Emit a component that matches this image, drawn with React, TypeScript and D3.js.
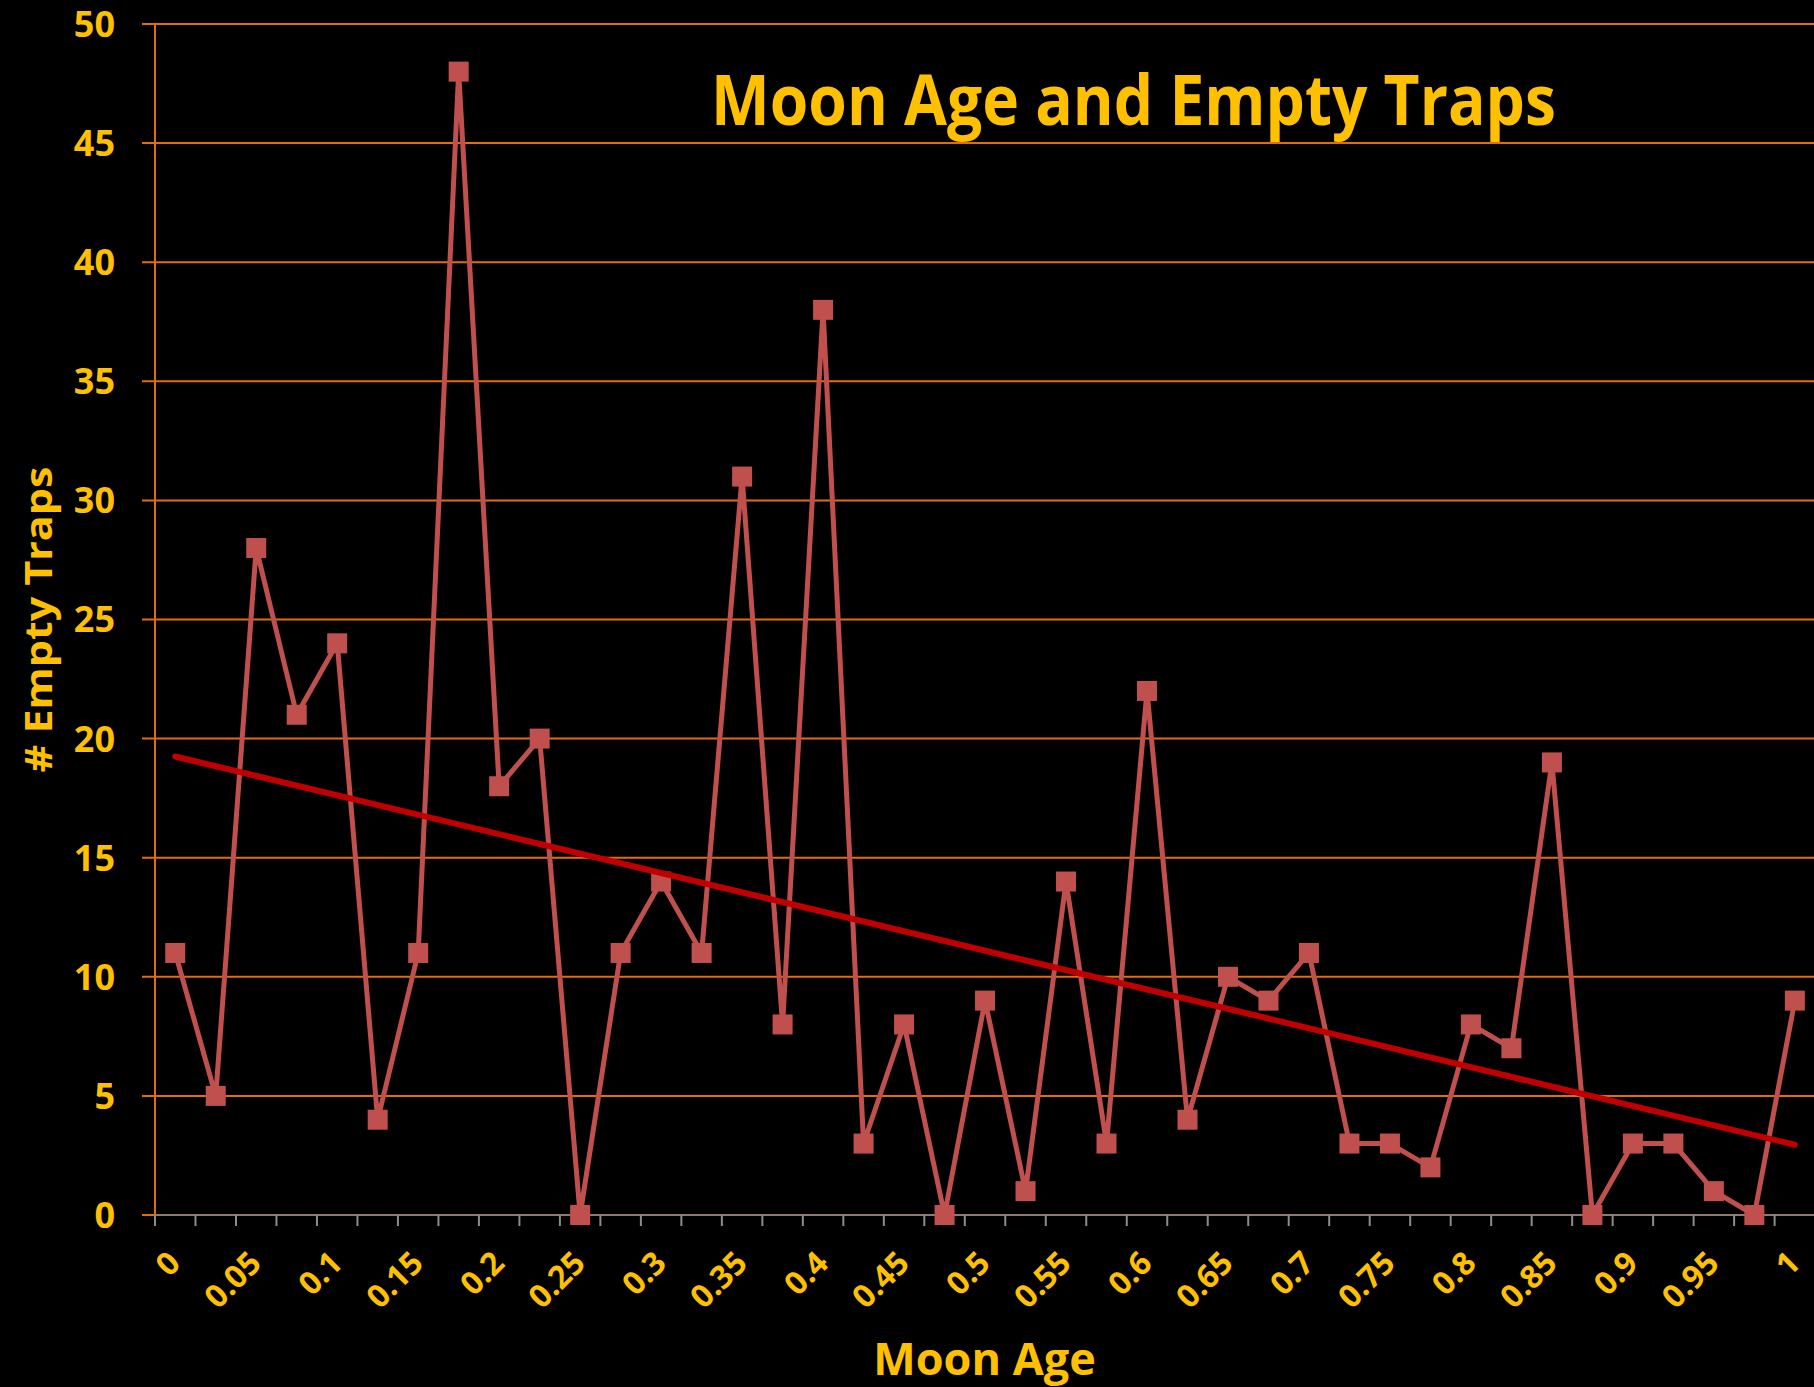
import React, { useRef, useEffect } from 'react'
import * as d3 from 'd3'

// moon age categories (0 to 1 in steps of 0.025)
const moonAges: string[] = [
  '0', '0.025', '0.05', '0.075', '0.1', '0.125', '0.15', '0.175', '0.2', '0.225',
  '0.25', '0.275', '0.3', '0.325', '0.35', '0.375', '0.4', '0.425', '0.45', '0.475',
  '0.5', '0.525', '0.55', '0.575', '0.6', '0.625', '0.65', '0.675', '0.7', '0.725',
  '0.75', '0.775', '0.8', '0.825', '0.85', '0.875', '0.9', '0.925', '0.95', '0.975', '1',
]

// number of empty traps per moon age
const emptyTraps: number[] = [
  11, 5, 28, 21, 24, 4, 11, 48, 18, 20,
  0, 11, 14, 11, 31, 8, 38, 3, 8, 0,
  9, 1, 14, 3, 22, 4, 10, 9, 11, 3,
  3, 2, 8, 7, 19, 0, 3, 3, 1, 0, 9,
]

// only every other category gets a label
const xTickLabels: string[] = [
  '0', '0.05', '0.1', '0.15', '0.2', '0.25', '0.3', '0.35', '0.4', '0.45', '0.5',
  '0.55', '0.6', '0.65', '0.7', '0.75', '0.8', '0.85', '0.9', '0.95', '1',
]

const yTicks: number[] = [0, 5, 10, 15, 20, 25, 30, 35, 40, 45, 50]

const YELLOW = '#FFC000'
const GRID = '#E46C0A'
const SERIES = '#C0504D'
const TREND = '#C00000'
const FONT = "'Open Sans', 'Noto Sans', sans-serif"

const MoonChart: React.FC = () => {
  const svgRef = useRef<SVGSVGElement | null>(null)

  useEffect(() => {
    document.body.style.margin = '0'
    document.body.style.background = '#000'

    const width = 1814
    const height = 1387
    const margin = { top: 24, right: 0, bottom: 172, left: 155 }

    const svg = d3.select(svgRef.current)
    svg.selectAll('*').remove()
    svg.attr('width', width).attr('height', height)

    svg.append('rect').attr('width', width).attr('height', height).attr('fill', '#000')

    // category axis, band per moon age
    const x = d3
      .scaleBand<string>()
      .domain(moonAges)
      .range([margin.left, margin.left + 40.49 * moonAges.length])
      .paddingInner(0)
      .paddingOuter(0)

    const y = d3
      .scaleLinear()
      .domain([0, 50])
      .range([height - margin.bottom, margin.top])

    const cx = (d: string) => (x(d) ?? 0) + x.bandwidth() / 2
    const y0 = y(0)

    // horizontal gridlines (with short outside ticks on the left)
    svg
      .append('g')
      .selectAll('line')
      .data(yTicks.filter((t) => t > 0))
      .enter()
      .append('line')
      .attr('x1', margin.left - 13)
      .attr('x2', width)
      .attr('y1', (d) => y(d))
      .attr('y2', (d) => y(d))
      .attr('stroke', GRID)
      .attr('stroke-width', 2)

    // y axis line
    svg
      .append('line')
      .attr('x1', margin.left)
      .attr('x2', margin.left)
      .attr('y1', y(50))
      .attr('y2', y0)
      .attr('stroke', GRID)
      .attr('stroke-width', 2)

    svg
      .append('line')
      .attr('x1', margin.left - 13)
      .attr('x2', margin.left)
      .attr('y1', y0)
      .attr('y2', y0)
      .attr('stroke', GRID)
      .attr('stroke-width', 2)

    // y tick labels
    svg
      .append('g')
      .selectAll('text')
      .data(yTicks)
      .enter()
      .append('text')
      .attr('x', 115)
      .attr('y', (d) => y(d))
      .attr('dy', '0.36em')
      .attr('text-anchor', 'end')
      .attr('font-family', FONT)
      .attr('font-weight', 700)
      .attr('font-size', 36)
      .attr('fill', YELLOW)
      .text((d) => d)

    // x axis line + tick marks between categories
    svg
      .append('line')
      .attr('x1', margin.left)
      .attr('x2', width)
      .attr('y1', y0)
      .attr('y2', y0)
      .attr('stroke', '#8C7B6E')
      .attr('stroke-width', 2)

    svg
      .append('g')
      .selectAll('line')
      .data(moonAges)
      .enter()
      .append('line')
      .attr('x1', (d) => x(d) ?? 0)
      .attr('x2', (d) => x(d) ?? 0)
      .attr('y1', y0)
      .attr('y2', y0 + 11)
      .attr('stroke', '#8C8C8C')
      .attr('stroke-width', 2)

    // rotated x tick labels
    svg
      .append('g')
      .selectAll('text')
      .data(xTickLabels)
      .enter()
      .append('text')
      .attr('transform', (d) => `translate(${cx(d) + 7},${y0 + 50}) rotate(-45)`)
      .attr('text-anchor', 'end')
      .attr('font-family', FONT)
      .attr('font-weight', 700)
      .attr('font-size', 32)
      .attr('fill', YELLOW)
      .text((d) => d)

    // series line
    const line = d3
      .line<number>()
      .x((_, i) => cx(moonAges[i]))
      .y((d) => y(d))

    svg
      .append('path')
      .datum(emptyTraps)
      .attr('d', line)
      .attr('fill', 'none')
      .attr('stroke', SERIES)
      .attr('stroke-width', 5)
      .attr('stroke-linejoin', 'round')

    // square markers
    svg
      .append('g')
      .selectAll('rect')
      .data(emptyTraps)
      .enter()
      .append('rect')
      .attr('x', (_, i) => cx(moonAges[i]) - 10)
      .attr('y', (d) => y(d) - 10)
      .attr('width', 20)
      .attr('height', 20)
      .attr('fill', SERIES)

    // linear trendline (least squares over category index)
    const idx = emptyTraps.map((_, i) => i)
    const mx = d3.mean(idx) ?? 0
    const my = d3.mean(emptyTraps) ?? 0
    const slope =
      d3.sum(idx, (i) => (i - mx) * (emptyTraps[i] - my)) / d3.sum(idx, (i) => (i - mx) ** 2)
    const intercept = my - slope * mx
    const last = moonAges.length - 1

    svg
      .append('line')
      .attr('x1', cx(moonAges[0]))
      .attr('y1', y(intercept))
      .attr('x2', cx(moonAges[last]))
      .attr('y2', y(intercept + slope * last))
      .attr('stroke', TREND)
      .attr('stroke-width', 6)
      .attr('stroke-linecap', 'round')

    // titles
    svg
      .append('text')
      .attr('x', 711)
      .attr('y', 125)
      .attr('textLength', 845)
      .attr('lengthAdjust', 'spacingAndGlyphs')
      .attr('font-family', FONT)
      .attr('font-weight', 700)
      .attr('font-size', 70)
      .attr('fill', YELLOW)
      .text('Moon Age and Empty Traps')

    svg
      .append('text')
      .attr('x', (margin.left + width) / 2)
      .attr('y', 1375)
      .attr('text-anchor', 'middle')
      .attr('font-family', FONT)
      .attr('font-weight', 700)
      .attr('font-size', 45)
      .attr('fill', YELLOW)
      .text('Moon Age')

    svg
      .append('text')
      .attr('transform', `translate(52,${(y(50) + y0) / 2}) rotate(-90)`)
      .attr('text-anchor', 'middle')
      .attr('textLength', 306)
      .attr('lengthAdjust', 'spacingAndGlyphs')
      .attr('font-family', FONT)
      .attr('font-weight', 700)
      .attr('font-size', 38)
      .attr('fill', YELLOW)
      .text('# Empty Traps')
  }, [])

  return <svg ref={svgRef} style={{ display: 'block' }}></svg>
}

export default function App() {
  return <MoonChart />
}
